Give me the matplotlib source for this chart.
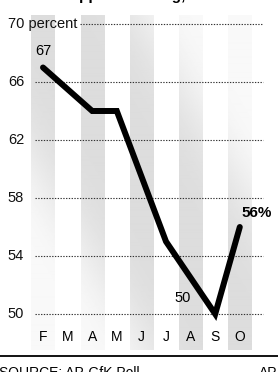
import numpy as np
import matplotlib.pyplot as plt

plt.rcParams['font.family'] = ['Liberation Sans', 'DejaVu Sans']

months = ["F", "M", "A", "M", "J", "J", "A", "S", "O"]
poll_idx = [0, 2, 3, 5, 7, 8]          # months with a poll
approval = [67, 64, 64, 55, 50, 56]
ticks = [50, 54, 58, 62, 66, 70]
tick_labels = ["50", "54", "58", "62", "66", "70 percent"]
stripe_idx = [0, 2, 4, 6, 8]

fig = plt.figure(figsize=(2.78, 3.72), dpi=100)
ax = fig.add_axes([0, 0, 1, 1])

# shaded month stripes: dark diagonal band, lighter corners
for i in stripe_idx:
    xs = np.linspace(i - 0.47, i + 0.47, 24)
    vs = np.linspace(47.5, 70.6, 240)
    X, V = np.meshgrid(xs, vs)
    px = 24.6 * X            # pixels from first month
    py = 14.5 * (70.6 - V)   # pixels from top of stripes
    d = (px * 330 - py * 197) / 384.0
    dark = np.exp(-(d / 90.0) ** 4)
    gray = 0.975 - 0.11 * dark
    ax.imshow(gray, cmap='gray', vmin=0, vmax=1, origin='lower', aspect='auto',
              extent=(i - 0.47, i + 0.47, 47.5, 70.6), interpolation='bilinear', zorder=0)

# dotted grid lines and labels
for t, lab in zip(ticks, tick_labels):
    start = 1.5 if t == 70 else -0.33
    ax.plot([start, 8.94], [t, t], color='#333333', lw=0.8, ls=(0, (1.2, 1.3)), zorder=1)
    ax.text(-1.43, t, lab, ha='left', va='center', fontsize=10.5, color='#111111')

ax.plot(poll_idx, approval, color='black', lw=4.3, solid_joinstyle='miter',
        solid_capstyle='round', zorder=3)

ax.text(0.02, 68.15, "67", ha='center', va='center', fontsize=10.5)
ax.text(5.69, 51.1, "50", ha='center', va='center', fontsize=10.5)
ax.text(8.7, 56.95, "56%", ha='center', va='center', fontsize=11, fontweight='bold')

for i, m in enumerate(months):
    ax.text(i, 48.4, m, ha='center', va='center', fontsize=10)

ax.axhline(47.1, color='black', lw=1.3)

ax.set_xlim(-1.748, 9.553)
ax.set_ylim(46.0, 71.655)
ax.axis('off')

fig.text(68 / 278, 1.0, "Approval rating,", fontsize=11, fontweight='bold',
         ha='left', va='baseline')
fig.text(-0.003, -0.013, "SOURCE: AP-GfK Poll", fontsize=10, ha='left', va='baseline')
fig.text(259 / 278, -0.013, "AP", fontsize=10, ha='left', va='baseline')

fig.savefig("out.png", dpi=100)
